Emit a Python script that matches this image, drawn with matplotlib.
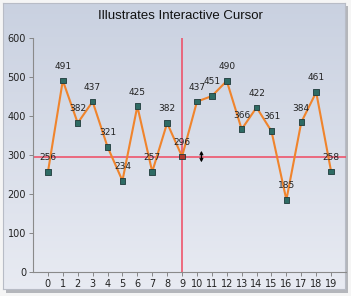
import matplotlib
matplotlib.use('Agg')
import matplotlib.pyplot as plt
import numpy as np
from matplotlib.patches import Rectangle

x_vals = list(range(20))
y_vals = [256, 491, 382, 437, 321, 234, 425, 257, 382, 296,
          437, 451, 490, 366, 422, 361, 185, 384, 461, 258]
cursor_idx = 9
title = 'Illustrates Interactive Cursor'

fig = plt.figure(figsize=(3.51, 2.96), dpi=100)
fig.patch.set_facecolor('#f5f5f5')

# shadow behind the panel
fig.patches.append(Rectangle((6 / 351, 1 - 293 / 296), 342 / 351, 287 / 296,
                             transform=fig.transFigure, facecolor='#b4b6bb',
                             edgecolor='none', zorder=-3))

# panel with vertical gradient
bg = fig.add_axes([3 / 351, 1 - 289 / 296, 342 / 351, 286 / 296], zorder=-2)
grad = np.linspace(0, 1, 100).reshape(-1, 1, 1)
top = np.array([0.79, 0.82, 0.88])
bot = np.array([0.91, 0.92, 0.95])
img = top + (bot - top) * grad * np.ones((1, 2, 1))
bg.imshow(img, extent=[0, 1, 0, 1], aspect='auto', origin='upper')
bg.set_xticks([])
bg.set_yticks([])
for s in bg.spines.values():
    s.set_color('#b8bcc6')
    s.set_linewidth(0.8)

ax = fig.add_axes([33 / 351, 1 - 272 / 296, 313 / 351, 234 / 296])
ax.patch.set_alpha(0)

ax.plot(x_vals, y_vals, color='#f0842c', lw=1.5, zorder=3)
colors = ['#2e6b64'] * len(x_vals)
colors[cursor_idx] = '#b03a2e'
ax.scatter(x_vals, y_vals, marker='s', s=16, c=colors,
           edgecolors='#1e3a3a', linewidths=0.6, zorder=4)

for xv, yv in zip(x_vals, y_vals):
    ax.annotate(str(yv), (xv, yv), xytext=(0, 7), textcoords='offset points',
                ha='center', va='bottom', fontsize=6.5, color='#222222', zorder=5)

ax.axvline(x_vals[cursor_idx], color='#f04860', lw=1.1, zorder=2)
ax.axhline(y_vals[cursor_idx], color='#f04860', lw=1.1, zorder=2)

ax.annotate('', xy=(x_vals[cursor_idx] + 1.3, y_vals[cursor_idx] + 22),
            xytext=(x_vals[cursor_idx] + 1.3, y_vals[cursor_idx] - 22),
            arrowprops=dict(arrowstyle='<->', color='black', lw=0.9,
                            mutation_scale=5), zorder=6)

ax.set_xlim(-1, 20)
ax.set_ylim(0, 600)
ax.set_xticks(x_vals)
ax.set_yticks(range(0, 601, 100))
ax.tick_params(labelsize=7, colors='#222222', length=3, width=0.6,
               color='#777777', pad=2)
for s in ['top', 'right']:
    ax.spines[s].set_visible(False)
for s in ['left', 'bottom']:
    ax.spines[s].set_color('#8a8a8a')
    ax.spines[s].set_linewidth(0.8)

fig.text(180 / 351, 1 - 16 / 296, title, ha='center', va='center',
         fontsize=9.5, color='#111111', family='Liberation Sans',
         weight='medium')

fig.savefig('out.png', dpi=100)
